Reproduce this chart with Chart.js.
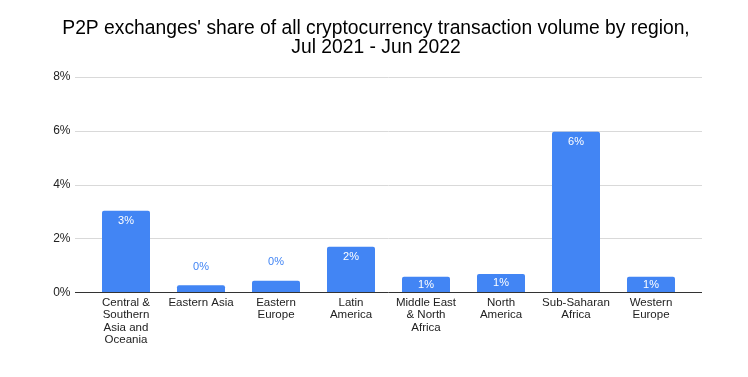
<!DOCTYPE html>
<html>
<head>
<meta charset="utf-8">
<script src="https://cdn.jsdelivr.net/npm/chart.js@4.4.1/dist/chart.umd.min.js"></script>
<style>
  html, body { margin: 0; padding: 0; background: #fff; }
  #wrap { width: 748px; height: 377px; }
</style>
</head>
<body>
<div id="wrap"><canvas id="chart" width="748" height="377"></canvas></div>
<script>
/* P2P share by region */

const regions = [
  ["Central &", "Southern", "Asia and", "Oceania"],
  ["Eastern Asia"],
  ["Eastern", "Europe"],
  ["Latin", "America"],
  ["Middle East", "& North", "Africa"],
  ["North", "America"],
  ["Sub-Saharan", "Africa"],
  ["Western", "Europe"]
];
const p2pShare = [3.03, 0.26, 0.43, 1.69, 0.58, 0.68, 5.96, 0.58];
const yTicks = [0, 2, 4, 6, 8];
const titleLines = [
  "P2P exchanges' share of all cryptocurrency transaction volume by region,",
  "Jul 2021 - Jun 2022"
];

const BLUE = "#4285f4";
const FONT = "'Liberation Sans', Arial, sans-serif";

/* gridlines reach a bit past the bars, like Sheets does */
const gridPlugin = {
  id: "sheetGrid",
  beforeDatasetsDraw(chart) {
    const { ctx, chartArea: a, scales: { y } } = chart;
    ctx.save();
    ctx.strokeStyle = "#d9d9d9";
    ctx.lineWidth = 1;
    yTicks.forEach((v) => {
      if (v === 0) return;
      const py = Math.round(y.getPixelForValue(v)) + 0.5;
      ctx.beginPath();
      ctx.moveTo(a.left - 13.5, py);
      ctx.lineTo(a.right + 13.5, py);
      ctx.stroke();
    });
    ctx.restore();
  },
  afterDatasetsDraw(chart) {
    const { ctx, chartArea: a, scales: { y } } = chart;
    ctx.save();
    ctx.strokeStyle = "#333";
    ctx.lineWidth = 1;
    const py = Math.round(y.getPixelForValue(0)) + 0.5;
    ctx.beginPath();
    ctx.moveTo(a.left - 13.5, py);
    ctx.lineTo(a.right + 13.5, py);
    ctx.stroke();

    // value labels
    const meta = chart.getDatasetMeta(0);
    ctx.font = "11px " + FONT;
    ctx.textAlign = "center";
    ctx.textBaseline = "middle";
    meta.data.forEach((bar, i) => {
      const txt = Math.round(p2pShare[i]) + "%";
      const h = bar.base - bar.y;
      if (h >= 14) {
        ctx.fillStyle = "#fff";
        ctx.fillText(txt, bar.x, Math.min(bar.y + 10, (bar.y + bar.base) / 2));
      } else {
        ctx.fillStyle = BLUE;
        ctx.fillText(txt, bar.x, bar.y - 18.5);
      }
    });
    ctx.restore();
  },
  // title centred on the whole canvas
  afterDraw(chart) {
    const { ctx, width } = chart;
    ctx.save();
    ctx.font = "19.3px " + FONT;
    ctx.fillStyle = "#000";
    ctx.textAlign = "center";
    ctx.textBaseline = "middle";
    titleLines.forEach((t, i) => ctx.fillText(t, width / 2 + 2, 28.5 + i * 19));
    ctx.restore();
  }
};

new Chart(document.getElementById("chart"), {
  type: "bar",
  data: {
    labels: regions,
    datasets: [{
      data: p2pShare,
      backgroundColor: BLUE,
      borderRadius: 2,
      borderSkipped: "bottom",
      categoryPercentage: 0.8,
      barPercentage: 0.8
    }]
  },
  options: {
    responsive: false,
    animation: false,
    layout: { padding: { left: 40, right: 59.5, top: 76.7, bottom: 24.7 } },
    plugins: {
      legend: { display: false },
      tooltip: { enabled: false },
      title: { display: false }
    },
    scales: {
      x: {
        grid: { display: false },
        border: { display: false },
        ticks: {
          color: "#222",
          font: { family: FONT, size: 11.5, lineHeight: 1.09 },
          padding: -4,
          maxRotation: 0,
          autoSkip: false
        },
        afterFit: (s) => { s.height = 60; }
      },
      y: {
        min: 0, max: 8,
        grid: { display: false },
        border: { display: false },
        ticks: {
          stepSize: 2,
          color: "#222",
          font: { family: FONT, size: 12 },
          padding: 10,
          callback: (v) => v + "%"
        },
        afterFit: (s) => { s.width = 48.5; }
      }
    }
  },
  plugins: [gridPlugin]
});
</script>
</body>
</html>
